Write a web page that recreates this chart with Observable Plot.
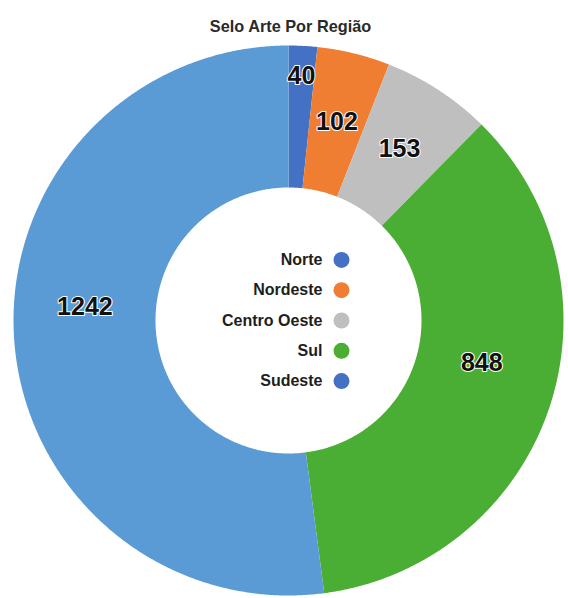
<!DOCTYPE html>
<html><head><meta charset="utf-8">
<script src="https://cdn.jsdelivr.net/npm/d3@7"></script>
<script src="https://cdn.jsdelivr.net/npm/@observablehq/plot@0.6"></script>
<style>body{margin:0;background:#fff}</style>
</head><body><div id="chart"></div>
<script>
// Data
const title = "Selo Arte Por Região";
const regions = ["Norte", "Nordeste", "Centro Oeste", "Sul", "Sudeste"];
const values = [40, 102, 153, 848, 1242];
const sliceColors = ["#4571C4", "#EF7E32", "#BFBFBF", "#4BAE34", "#5B9BD5"];
const legendDotColors = ["#4571C4", "#EF7E32", "#BFBFBF", "#4BAE34", "#4571C4"];

// Layout (pixels)
const W = 568, H = 598, cx = 288, cy = 320, R = 275, RIN = 133;
const inner = RIN / R;
const labelTweak = {Norte: {r: 0.89}, Sul: {r: 0.72, da: -6}, Sudeste: {da: 7.6}};

const arcs = d3.pie().sort(null)(values);
const deg = Math.PI / 180;
const slicePts = [];
arcs.forEach((a, i) => {
  const n = Math.max(4, Math.ceil((a.endAngle - a.startAngle) / (0.4 * deg)));
  for (let k = 0; k <= n; k++) {
    const t = a.startAngle + (a.endAngle - a.startAngle) * k / n;
    slicePts.push({region: regions[i], c: sliceColors[i], x: Math.sin(t), y: Math.cos(t)});
  }
  for (let k = n; k >= 0; k--) {
    const t = a.startAngle + (a.endAngle - a.startAngle) * k / n;
    slicePts.push({region: regions[i], c: sliceColors[i], x: inner * Math.sin(t), y: inner * Math.cos(t)});
  }
});

const labels = arcs.map((a, i) => {
  const tw = labelTweak[regions[i]] || {};
  const m = (a.startAngle + a.endAngle) / 2 + (tw.da || 0) * deg;
  const r = tw.r || 0.742;
  return {text: String(values[i]), x: r * Math.sin(m), y: r * Math.cos(m)};
});

const rowStep = 30.3 / R;
const legend = regions.map((r, i) => ({
  region: r, c: legendDotColors[i], y: -(i - 2) * rowStep
}));

const chart = Plot.plot({
  width: W, height: H,
  marginTop: 0, marginRight: 0, marginBottom: 0, marginLeft: 0,
  x: {domain: [-1, 1], range: [cx - R, cx + R], axis: null},
  y: {domain: [-1, 1], range: [cy + R, cy - R], axis: null},
  color: {type: "identity"},
  style: {fontFamily: "'Liberation Sans', Arial, sans-serif", background: "white", overflow: "visible"},
  marks: [
    Plot.line(slicePts, {x: "x", y: "y", z: "region", fill: "c", stroke: "none", curve: "linear"}),
    Plot.text(labels, {x: "x", y: "y", text: "text", fontSize: 25, fontWeight: "bold", fill: "#111", stroke: "white", strokeWidth: 2}),
    Plot.text(legend, {x: 34 / R, y: "y", text: "region", textAnchor: "end", fontSize: 16, fontWeight: "bold", fill: "#1e1e1e"}),
    Plot.dot(legend, {x: 53 / R, y: "y", r: 8, fill: "c", stroke: "none"}),
    Plot.text([title], {frameAnchor: "top", dx: 6, dy: 20, fontSize: 16.3, fontWeight: "bold", fill: "#2a2a2a"})
  ]
});
document.getElementById("chart").append(chart);
</script>
</body></html>
